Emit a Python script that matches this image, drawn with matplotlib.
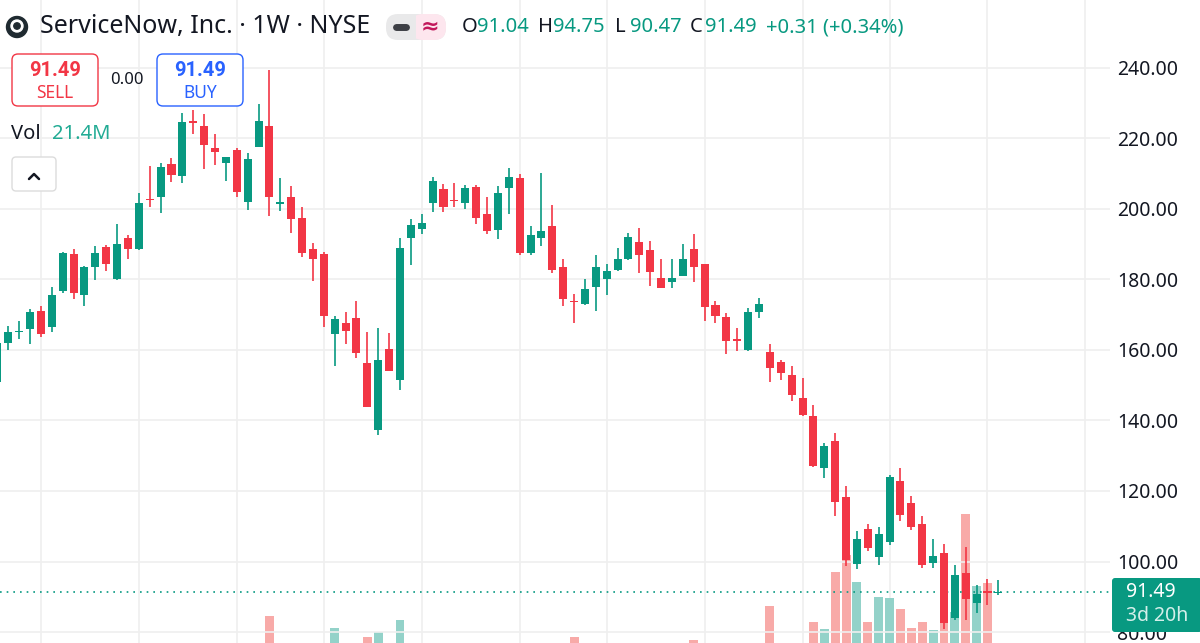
import matplotlib

matplotlib.use('Agg')

import matplotlib.pyplot as plt
from matplotlib.patches import FancyBboxPatch, Rectangle, Circle

plt.rcParams['font.family'] = ['Noto Sans', 'DejaVu Sans']

# weekly candles, oldest first (split adjusted)
opens = [151.0, 161.9, 165.0, 165.8, 171.1, 166.4, 176.8, 187.2, 175.6, 183.6,
         189.3, 180.0, 191.6, 188.5, 202.9, 203.3, 212.7, 209.3, 224.8, 223.5,
         217.2, 213.1, 216.7, 202.0, 217.4, 223.5, 201.5, 203.4, 197.5, 188.6,
         187.1, 164.5, 167.5, 169.0, 156.2, 137.3, 160.2, 151.6, 191.8, 194.4,
         201.6, 205.5, 202.5, 201.7, 206.1, 198.4, 194.0, 205.8, 208.7, 187.6,
         191.7, 195.1, 183.6, 174.0, 173.0, 177.8, 180.0, 182.7, 185.8, 190.6,
         188.3, 180.5, 179.2, 181.0, 188.6, 184.3, 172.7, 169.2, 163.0, 160.0,
         170.7, 159.3, 156.6, 152.9, 146.4, 141.4, 126.4, 134.3, 118.4, 99.4,
         109.2, 101.3, 105.4, 122.8, 116.5, 110.5, 99.5, 102.5, 83.9, 96.7,
         88.3, 91.5, 91.04]
highs = [163.0, 166.8, 168.3, 171.5, 172.5, 177.8, 187.9, 188.5, 183.8, 189.6,
         189.8, 195.7, 192.6, 204.6, 212.1, 213.1, 214.3, 227.1, 228.0, 226.8,
         221.2, 214.8, 217.2, 215.9, 229.6, 239.5, 208.7, 206.5, 200.6, 190.4,
         187.9, 169.6, 170.8, 174.0, 165.2, 166.3, 164.7, 191.6, 197.0, 198.4,
         209.1, 207.0, 207.4, 206.8, 206.8, 203.4, 206.5, 211.5, 209.9, 195.0,
         210.3, 201.0, 185.7, 175.9, 180.0, 186.9, 184.3, 189.0, 193.1, 194.5,
         190.9, 185.7, 185.7, 189.9, 192.8, 184.3, 174.0, 170.5, 166.1, 172.0,
         174.8, 161.7, 157.1, 155.5, 152.0, 144.5, 133.7, 136.4, 121.4, 108.6,
         110.5, 109.9, 124.5, 126.4, 118.6, 113.0, 106.3, 105.1, 99.0, 104.2,
         93.3, 95.0, 94.75]
lows = [150.0, 160.0, 163.0, 161.7, 163.8, 165.2, 176.1, 174.4, 172.5, 179.8,
        182.5, 179.8, 185.7, 188.3, 200.6, 198.7, 207.7, 207.4, 221.2, 211.2,
        212.4, 208.0, 203.4, 199.7, 217.4, 198.0, 199.5, 193.2, 186.4, 179.6,
        166.6, 155.4, 161.7, 157.8, 143.7, 135.9, 154.0, 148.6, 184.1, 192.9,
        199.2, 199.0, 200.6, 199.9, 195.7, 193.0, 191.4, 198.5, 186.9, 186.9,
        189.5, 181.7, 172.5, 167.7, 172.7, 171.1, 175.6, 182.4, 185.5, 181.9,
        178.2, 177.5, 177.5, 181.0, 179.3, 168.1, 167.7, 158.7, 159.8, 159.7,
        169.1, 151.0, 151.5, 145.6, 141.4, 126.8, 123.6, 113.0, 98.6, 97.8,
        103.1, 99.0, 104.7, 111.4, 108.9, 98.2, 98.2, 81.0, 83.4, 83.4,
        85.3, 87.6, 90.47]
closes = [162.0, 165.2, 165.3, 170.7, 164.5, 175.6, 187.6, 176.2, 183.4, 187.6,
          184.3, 190.0, 188.5, 201.6, 202.5, 212.0, 209.6, 224.7, 224.2, 218.0,
          216.0, 214.6, 204.8, 214.1, 224.9, 203.4, 201.9, 197.2, 187.4, 185.7,
          169.6, 168.7, 165.5, 159.2, 143.9, 157.0, 154.1, 188.8, 195.4, 195.9,
          208.0, 200.6, 202.1, 205.8, 197.5, 193.8, 204.4, 208.9, 187.6, 192.5,
          193.8, 182.6, 174.3, 173.5, 177.2, 183.4, 182.5, 185.7, 192.1, 186.9,
          182.2, 177.5, 180.5, 185.9, 183.6, 172.2, 169.7, 162.5, 162.6, 170.7,
          173.0, 155.0, 153.5, 147.1, 141.6, 127.0, 132.8, 116.8, 100.4, 106.5,
          103.7, 107.7, 124.0, 113.2, 109.9, 99.0, 101.6, 82.5, 96.2, 89.5,
          90.7, 91.18, 91.49]
# weekly volume, millions of shares (most early bars sit below the visible area)
volumes = [34, 32, 30, 33, 35, 31, 36, 38, 30, 32,
           29, 34, 31, 37, 39, 33, 30, 38, 40, 36,
           33, 31, 38, 36, 39, 110, 40, 36, 38, 35,
           40, 80, 34, 39, 57, 70, 38, 100, 39, 33,
           35, 32, 28, 30, 34, 31, 33, 30, 40, 36,
           34, 38, 37, 57, 33, 35, 30, 32, 34, 31,
           33, 30, 29, 34, 50, 38, 35, 40, 33, 37,
           32, 135, 40, 38, 41, 94, 77, 220, 262, 194,
           96, 158, 154, 127, 79, 96, 75, 112, 120, 364,
           186, 192, 21.4]

price_ticks = [80, 100, 120, 140, 160, 180, 200, 220, 240]
month_ticks = [4, 13, 22, 30, 39, 48, 56, 65, 74, 82, 91, 100]

last_price = 91.49
header_title = 'ServiceNow, Inc. · 1W · NYSE'
ohlc_parts = [('O', '91.04'), ('H', '94.75'), ('L', '90.47'), ('C', '91.49')]
change_text = '+0.31 (+0.34%)'
vol_text = '21.4M'
countdown = '3d 20h'

GREEN = '#089981'
RED = '#f23645'
VOL_GREEN = '#93d2c9'
VOL_RED = '#f8aaa8'
TEXT = '#131722'
GRID = '#efefef'
BOLD_FAMILY = ['Roboto', 'DejaVu Sans']

W, H = 1200, 643
fig = plt.figure(figsize=(W / 100, H / 100), dpi=100)
fig.patch.set_facecolor('white')

# chart pane runs slightly past the bottom edge (time axis is cropped away)
pane = [0, -17 / H, 1110 / W, 660 / H]
axv = fig.add_axes(pane)
ax = axv.twinx()

idx = list(range(len(opens)))
up = [c >= o for o, c in zip(opens, closes)]

axv.bar(idx, volumes, width=0.82, color=[VOL_GREEN if u else VOL_RED for u in up],
        linewidth=0, zorder=1)
axv.set_ylim(0, 1650)
axv.set_yticks([])
axv.set_xticks(month_ticks)
axv.tick_params(axis='x', length=0, labelbottom=False)
axv.grid(axis='x', color=GRID, linewidth=1.2)
axv.set_axisbelow(True)

colors = [GREEN if u else RED for u in up]
ax.vlines(idx, lows, highs, colors=colors, linewidth=1.2, zorder=3)
bottoms = [min(o, c) for o, c in zip(opens, closes)]
heights = [max(abs(c - o), 0.35) for o, c in zip(opens, closes)]
ax.bar(idx, heights, bottom=bottoms, width=0.74, color=colors, linewidth=0, zorder=4)

ax.axhline(last_price, color=GREEN, linewidth=1.2, linestyle=(0, (1, 3)), zorder=2)

ax.set_ylim(72.08, 259.21)
ax.set_xlim(0.237, 102.26)
ax.set_yticks(price_ticks)
ax.set_yticklabels([f'{t:.2f}' for t in price_ticks])
ax.tick_params(axis='y', length=0, pad=5, labelsize=14, labelcolor=TEXT)
ax.grid(axis='y', color=GRID, linewidth=1.2, zorder=0)
for a in (ax, axv):
    for s in a.spines.values():
        s.set_visible(False)

# overlay in pixel coordinates for the TradingView widgets
ov = fig.add_axes([0, 0, 1, 1], zorder=10)
ov.set_xlim(0, W)
ov.set_ylim(H, 0)
ov.axis('off')
ov.patch.set_alpha(0)

# logo
ov.add_patch(Circle((17, 27), 10.5, color='#1f2a30'))
ov.add_patch(Circle((17, 26), 6, color='white'))
ov.add_patch(Circle((17, 26), 3.2, color='#1f2a30'))
ov.text(40, 27, header_title, fontsize=18, color=TEXT, va='center', ha='left')

# pill with the two toggles
ov.add_patch(FancyBboxPatch((389, 17), 54, 20, boxstyle='round,pad=3,rounding_size=12',
                            facecolor='#e9e9ea', edgecolor='none'))
ov.add_patch(FancyBboxPatch((414, 17), 29, 20, boxstyle='round,pad=3,rounding_size=12',
                            facecolor='#fde6ee', edgecolor='none'))
ov.add_patch(Rectangle((410, 14), 6, 26, facecolor='#e9e9ea', edgecolor='none'))
ov.plot([396, 406], [27, 27], color='#3d3f45', linewidth=5, solid_capstyle='round')
ov.text(430, 27, '≈', fontsize=16, color='#c2185b', ha='center', va='center',
        fontweight='bold')

# OHLC line
ohlc_x = [462, 538, 615, 690]
for (lab, val), x0 in zip(ohlc_parts, ohlc_x):
    ov.text(x0, 27, lab, fontsize=14.5, color=TEXT, va='center', ha='left')
    ov.text(x0 + 15, 27, val, fontsize=14.5, color=GREEN, va='center', ha='left')
ov.text(766, 27, change_text, fontsize=14.5, color=GREEN, va='center', ha='left')

# SELL / BUY boxes
ov.add_patch(FancyBboxPatch((12, 54), 86, 52, boxstyle='round,pad=0,rounding_size=6',
                            facecolor='white', edgecolor=RED, linewidth=1.0))
ov.text(55, 70, '91.49', fontsize=14.5, color=RED, fontweight='bold', family=BOLD_FAMILY,
        ha='center', va='center')
ov.text(55, 93, 'SELL', fontsize=12.5, color=RED, ha='center', va='center')
ov.text(127, 80, '0.00', fontsize=12, color=TEXT, ha='center', va='center')
ov.add_patch(FancyBboxPatch((157, 54), 86, 52, boxstyle='round,pad=0,rounding_size=6',
                            facecolor='white', edgecolor='#2962ff', linewidth=1.0))
ov.text(200, 70, '91.49', fontsize=14.5, color='#2962ff', fontweight='bold',
        family=BOLD_FAMILY, ha='center', va='center')
ov.text(200, 93, 'BUY', fontsize=12.5, color='#2962ff', ha='center', va='center')

# volume legend and collapse button
ov.text(11, 134, 'Vol', fontsize=14.5, color=TEXT, ha='left', va='center')
ov.text(52, 134, vol_text, fontsize=14.5, color='#22ab94', ha='left', va='center')
ov.add_patch(FancyBboxPatch((12, 157), 44, 34, boxstyle='round,pad=0,rounding_size=4',
                            facecolor='white', edgecolor='#dcdcdc', linewidth=1.0))
ov.plot([29, 34, 39], [179, 174, 179], color=TEXT, linewidth=1.8, solid_capstyle='round')

# last price tag on the scale
ov.add_patch(FancyBboxPatch((1112, 578), 90, 54, boxstyle='round,pad=0,rounding_size=3',
                            facecolor=GREEN, edgecolor='none'))
ov.text(1126, 592, f'{last_price:.2f}', fontsize=14, color='white', ha='left', va='center')
ov.text(1126, 616, countdown, fontsize=14, color='#d4efea', ha='left', va='center')

fig.savefig('out.png', dpi=100, facecolor='white')
plt.close(fig)
